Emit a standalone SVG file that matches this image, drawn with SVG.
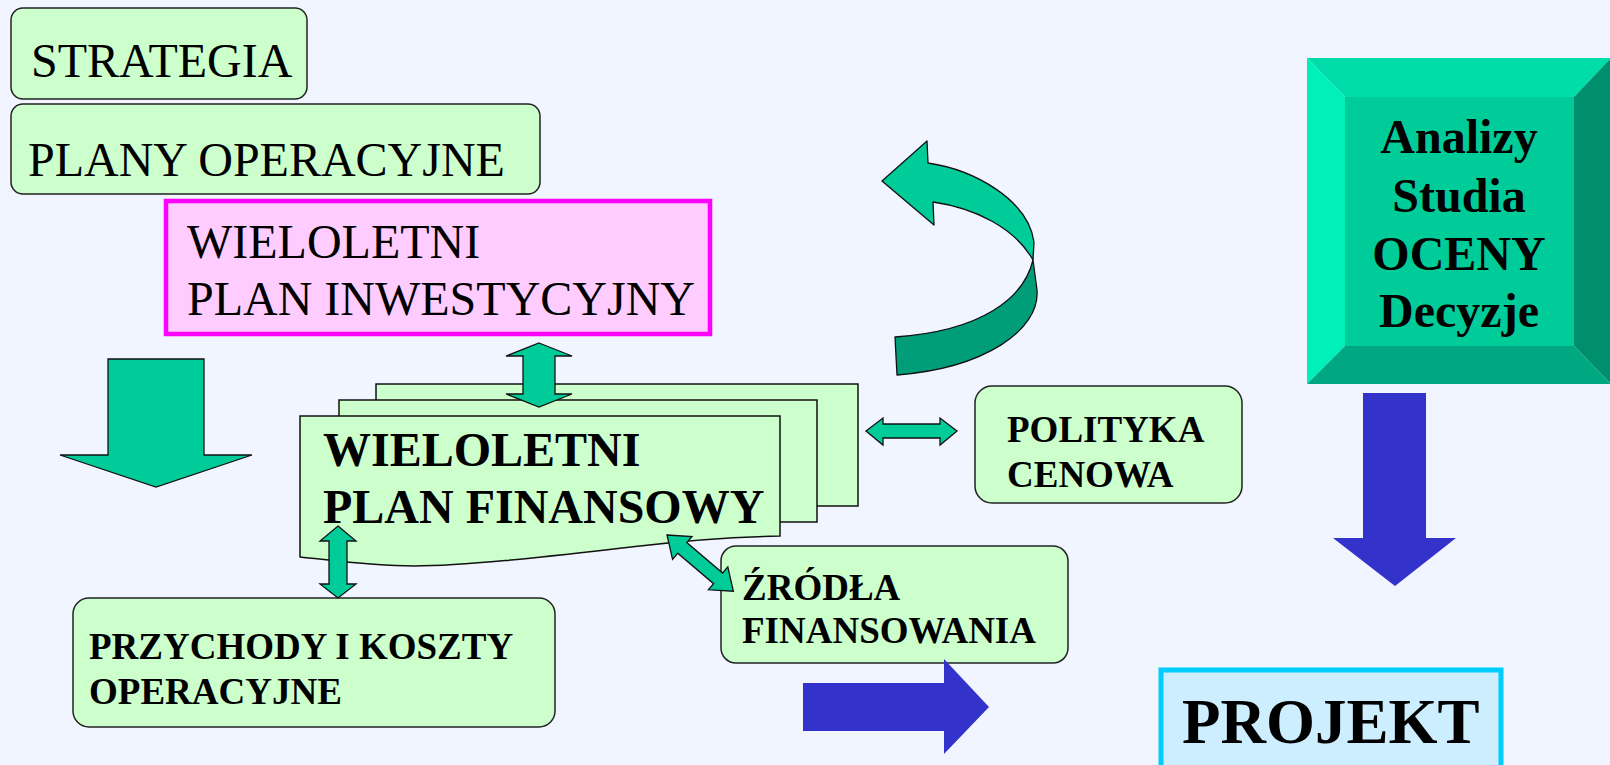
<svg xmlns="http://www.w3.org/2000/svg" width="1610" height="765" viewBox="0 0 1610 765">
  <style>
    .box { fill: #CCFFCC; stroke: #222; stroke-width: 1.5; }
    .sheet { fill: #CCFFCC; stroke: #111; stroke-width: 1.5; }
    .garrow { fill: #00CC99; stroke: #111; stroke-width: 1.3; stroke-linejoin: miter; }
    .barrow { fill: #3333CC; }
    .serif { font-family: "Liberation Serif", "Times New Roman", serif; font-size: 48px; fill: #000; }
    .bold { font-family: "Liberation Serif", "Times New Roman", serif; font-weight: bold; fill: #000; }
    .b37 { font-size: 37px; }
    .b48 { font-size: 48px; }
  </style>

  <rect x="0" y="0" width="1610" height="765" fill="#F1F5FF"/>

  <!-- strategy -->
  <g id="strategia">
    <rect class="box" x="11" y="8" width="296" height="91" rx="12"/>
    <text class="serif" x="31" y="77">STRATEGIA</text>
  </g>

  <!-- operational plans -->
  <g id="plany-operacyjne">
    <rect class="box" x="11" y="104" width="529" height="90" rx="12"/>
    <text class="serif" x="28" y="176">PLANY OPERACYJNE</text>
  </g>

  <!-- multi-year investment plan -->
  <g id="plan-inwestycyjny">
    <rect x="166" y="201" width="544" height="133" fill="#FFCCFF" stroke="#FF00FF" stroke-width="4.5"/>
    <text class="serif" x="187" y="258">WIELOLETNI</text>
    <text class="serif" x="187" y="315">PLAN INWESTYCYJNY</text>
  </g>

  <!-- big downward arrow on the left -->
  <g id="strzalka-lewa">
    <polygon class="garrow" points="108,359 204,359 204,455 252,455 156,487 60,455 108,455"/>
  </g>

  <!-- curled ribbon arrow -->
  <g id="strzalka-petla" stroke="#111" stroke-width="1.3" stroke-linejoin="round">
    <path fill="#009E78" d="M1033,260 C1024,298 982,331 895,337 L897,375 C985,368 1040,330 1037,290 Z"/>
    <path fill="#00CC99" d="M882,181 L927,141 L928,163 C975,170 1028,200 1034,242 L1033,260 C1015,228 975,208 933,202 L934,225 Z"/>
  </g>

  <!-- multi-year financial plan (stacked sheets) -->
  <g id="plan-finansowy">
    <rect class="sheet" x="376" y="384" width="482" height="122"/>
    <rect class="sheet" x="339" y="400" width="478" height="122"/>
    <path class="sheet" d="M300,416 H780 V536 C730,537 690,540 640,546 C560,555 470,566 414,566 C370,566 330,560 300,557 Z"/>
    <text class="bold b48" x="323" y="466">WIELOLETNI</text>
    <text class="bold b48" x="323" y="523">PLAN FINANSOWY</text>
  </g>

  <!-- pricing policy -->
  <g id="polityka-cenowa">
    <rect class="box" x="975" y="386" width="267" height="117" rx="17"/>
    <text class="bold b37" x="1007" y="442">POLITYKA</text>
    <text class="bold b37" x="1007" y="487">CENOWA</text>
  </g>

  <!-- operating revenues and costs -->
  <g id="przychody-koszty">
    <rect class="box" x="73" y="598" width="482" height="129" rx="16"/>
    <text class="bold b37" x="89" y="659">PRZYCHODY I KOSZTY</text>
    <text class="bold b37" x="89" y="704">OPERACYJNE</text>
  </g>

  <!-- financing sources -->
  <g id="zrodla-finansowania">
    <rect class="box" x="721" y="546" width="347" height="117" rx="15"/>
    <text class="bold b37" x="742" y="600">ŹRÓDŁA</text>
    <text class="bold b37" x="742" y="643">FINANSOWANIA</text>
  </g>

  <!-- bevelled analysis block -->
  <g id="analizy">
    <polygon fill="#00DDAA" points="1307,58 1611,58 1574,97 1345,97"/>
    <polygon fill="#00F0BA" points="1307,58 1345,97 1345,346 1307,384"/>
    <polygon fill="#008F6C" points="1611,58 1611,384 1574,346 1574,97"/>
    <polygon fill="#00A881" points="1307,384 1345,346 1574,346 1611,384"/>
    <rect x="1345" y="97" width="229" height="249" fill="#00CC99"/>
    <g class="bold b48" text-anchor="middle">
      <text x="1459" y="153">Analizy</text>
      <text x="1459" y="212">Studia</text>
      <text x="1459" y="270">OCENY</text>
      <text x="1459" y="327">Decyzje</text>
    </g>
  </g>

  <!-- project -->
  <g id="projekt">
    <rect x="1161" y="670" width="340" height="115" fill="#CCEEFF" stroke="#00CCFF" stroke-width="5"/>
    <text class="bold" font-size="63" x="1182" y="743">PROJEKT</text>
  </g>

  <!-- connectors -->
  <g id="connectors">
    <polygon class="garrow" points="539,343 572,356 555,356 555,394 572,394 539,407 506,394 523,394 523,356 506,356"/>
    <polygon class="garrow" points="338,526 356,541 347,541 347,584 356,584 338,598 320,584 329,584 329,541 320,541"/>
    <polygon class="garrow" points="866,431 883,418 883,424 940,424 940,418 957,431 940,445 940,438 883,438 883,445"/>
    <polygon class="garrow" transform="translate(667,535) rotate(40.3)" points="0,0 20,-15 20,-7 67,-7 67,-15 87,0 67,15 67,7 20,7 20,15"/>
    <polygon class="barrow" points="1363,393 1426,393 1426,538 1456,538 1395,586 1333,538 1363,538"/>
    <polygon class="barrow" points="803,683 944,683 944,659 989,707 944,754 944,731 803,731"/>
  </g>
</svg>
